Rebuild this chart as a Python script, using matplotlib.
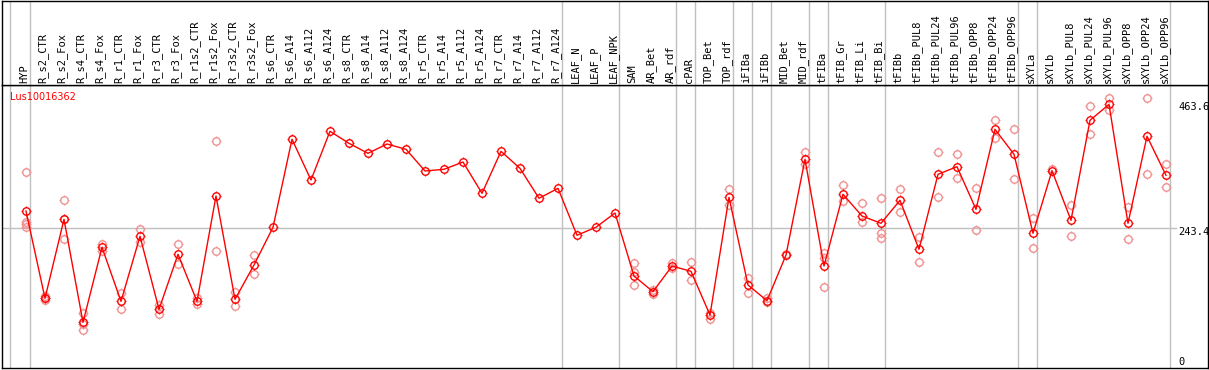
import matplotlib

matplotlib.use("Agg")
import matplotlib.pyplot as plt
import numpy as np
from matplotlib.path import Path

gene = "Lus10016362"

labels = [
    "HYP",
    "R_s2_CTR", "R_s2_Fox", "R_s4_CTR", "R_s4_Fox", "R_r1_CTR", "R_r1_Fox",
    "R_r3_CTR", "R_r3_Fox", "R_r1s2_CTR", "R_r1s2_Fox", "R_r3s2_CTR", "R_r3s2_Fox",
    "R_s6_CTR", "R_s6_A14", "R_s6_A112", "R_s6_A124",
    "R_s8_CTR", "R_s8_A14", "R_s8_A112", "R_s8_A124",
    "R_r5_CTR", "R_r5_A14", "R_r5_A112", "R_r5_A124",
    "R_r7_CTR", "R_r7_A14", "R_r7_A112", "R_r7_A124",
    "LEAF_N", "LEAF_P", "LEAF_NPK",
    "SAM", "AR_Bet", "AR_rdf",
    "cPAR",
    "TOP_Bet", "TOP_rdf",
    "iFIBa",
    "iFIBb",
    "MID_Bet", "MID_rdf",
    "tFIBa",
    "tFIB_Gr", "tFIB_Li", "tFIB_Bi",
    "tFIBb", "tFIBb_PUL8", "tFIBb_PUL24", "tFIBb_PUL96",
    "tFIBb_OPP8", "tFIBb_OPP24", "tFIBb_OPP96",
    "sXYLa",
    "sXYLb", "sXYLb_PUL8", "sXYLb_PUL24", "sXYLb_PUL96",
    "sXYLb_OPP8", "sXYLb_OPP24", "sXYLb_OPP96",
]

# sizes of the sample groups (separator line after each)
group_sizes = [1, 28, 3, 3, 1, 2, 1, 1, 2, 1, 3, 7, 1, 7]

means = [
    274.2,
    119.2, 259.5, 76.5, 209.7, 113.8, 229.3,
    99.6, 197.3, 113.8, 300.9, 117.4, 178.3,
    245.3, 401.6, 329.3, 415.8,
    394.4, 376.7, 393.2, 383.8,
    345.3, 348.3, 361.2, 305.7,
    380.2, 350.0, 296.8, 314.5,
    231.1, 245.4, 270.7,
    158.8, 130.9, 176.5,
    167.1,
    89.5, 298.5,
    142.8,
    114.9,
    196.0, 366.0,
    176.5,
    303.9, 265.3, 252.4,
    293.2, 206.2, 339.4, 352.9,
    277.2, 419.3, 374.9,
    234.6,
    345.8, 257.7, 435.3, 463.6,
    252.4, 406.9, 337.6,
]

replicates = [
    [343.0, 255.2, 250.6, 246.3],
    [123.0, 116.0, 119.7], [293.2, 225.0, 260.0], [93.0, 62.3, 74.0],
    [216.1, 203.7], [128.6, 99.6], [242.2, 219.7],
    [107.3, 90.8], [215.0, 180.6], [119.2, 108.5], [398.0, 202.6],
    [129.8, 106.0], [195.5, 161.8],
    [], [], [], [],
    [], [], [], [],
    [], [], [], [],
    [], [], [], [],
    [], [], [],
    [181.3, 166.4, 142.8], [134.0, 126.3], [181.3, 173.5],
    [183.6, 151.1],
    [93.6, 82.4], [312.8, 284.9],
    [155.2, 128.6],
    [119.2, 112.6],
    [197.8],
    [378.5, 357.2],
    [200.2, 190.0, 138.7],
    [319.9, 292.5], [287.9, 254.1], [296.8, 234.6, 225.7],
    [312.8, 273.0], [227.5, 184.2], [378.5, 298.5], [374.9, 332.3],
    [314.5, 239.9], [435.3, 403.3], [419.3, 331.0],
    [261.2, 208.0],
    [348.3], [284.3, 229.8], [460.2, 410.4], [474.9, 454.1],
    [281.9, 224.0], [474.9, 339.4], [357.7, 317.4],
]

max_value = 463.6
avg_value = 243.4

# four short ticks around the circle marker
ticks = Path(
    [(0, 1.0), (0, 1.35), (0, -1.0), (0, -1.35), (1.0, 0), (1.35, 0), (-1.0, 0), (-1.35, 0)],
    [Path.MOVETO, Path.LINETO] * 4,
)


def tick_circles(a, xs, ys, color, z):
    a.plot(xs, ys, ls="none", marker="o", ms=5.4, mfc="none", mec=color, mew=1.0, zorder=z)
    a.plot(xs, ys, ls="none", marker=ticks, ms=7.4, mfc="none", mec=color, mew=0.8, zorder=z)


W, H = 1209, 370
fig = plt.figure(figsize=(W / 100, H / 100), dpi=100)
ax = fig.add_axes([1.5 / W, (H - 368) / H, (1208 - 1.5) / W, (368 - 85) / H])
hdr = fig.add_axes([1.5 / W, (H - 85) / H, (1208 - 1.5) / W, (85 - 0.5) / H], sharex=ax)

x = np.arange(len(labels))
xmin = (1.5 - 26) / 19
xmax = (1208 - 26) / 19
ax.set_xlim(xmin, xmax)
ax.set_ylim(-4.6, 498)
hdr.set_ylim(0, 1)

grid_c = "#c0c0c0"
seps = [-0.84] + list(np.cumsum(group_sizes) - 1 + 0.23)
for s in seps:
    ax.axvline(s, color=grid_c, lw=1, zorder=1)
    hdr.axvline(s, color=grid_c, lw=1, zorder=1)

label_x = (1178 - 1.5) / (1208 - 1.5)
ax.axhline(avg_value, xmax=label_x - 0.002, color=grid_c, lw=1, zorder=1)

for i, reps in enumerate(replicates):
    if reps:
        tick_circles(ax, [i] * len(reps), reps, "#f09090", 2)

ax.plot(x, means, color="red", lw=1, zorder=3)
tick_circles(ax, x, means, "red", 4)

for i, lab in enumerate(labels):
    hdr.text(i - 0.1, 0.024, lab, rotation=90, ha="center", va="bottom",
             family="DejaVu Sans Mono", fontsize=7.5,
             transform=hdr.get_xaxis_transform())

fig.text(10 / W, 1 - 97 / H, gene, color="red", fontsize=7, va="center", ha="left")

for val, txt, off in [(max_value, "463.6", -3), (avg_value, "243.4", -4), (0, "0", 3)]:
    ax.annotate(txt, xy=(label_x, val), xycoords=("axes fraction", "data"),
                xytext=(0, off), textcoords="offset pixels", ha="left", va="center",
                family="DejaVu Sans Mono", fontsize=7.5)

for a in (ax, hdr):
    a.set_xticks([])
    a.set_yticks([])
    for sp in a.spines.values():
        sp.set_linewidth(1)
        sp.set_color("black")

fig.savefig("out.png", dpi=100)
